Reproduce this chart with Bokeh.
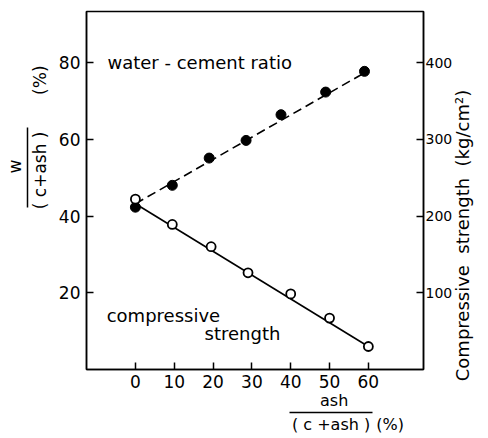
import math
from bokeh.plotting import figure
from bokeh.models import Range1d, LinearAxis, FixedTicker, Label
from bokeh.embed import file_html
from bokeh.resources import INLINE

# ---- data ----
wc_x = [0, 9.5, 19, 28.5, 37.5, 49, 59]
wc_y = [42.3, 48.0, 55.1, 59.7, 66.4, 72.3, 77.7]          # w/(c+ash) %
cs_x = [0, 9.5, 19.5, 29, 40, 50, 60]
cs_y = [222, 189, 160, 126, 98.5, 67, 30]                  # kg/cm2
fit_x = [0, 60]
fit_wc = [43.2, 77.9]
fit_cs = [216, 30]
x_ticks = [0, 10, 20, 30, 40, 50, 60]
left_ticks = [20, 40, 60, 80]
right_ticks = [100, 200, 300, 400]

FONT = "DejaVu Sans"
V = math.pi / 2
SP = "\u00a0"
RIGHT_TITLE = "Compressive" + SP + SP + "strength" + SP + SP + "(kg/cm²)"

p = figure(width=488, height=438, output_backend="svg", toolbar_location=None,
           x_range=Range1d(-12.6, 74.2), y_range=Range1d(0, 93.3),
           min_border_left=86, min_border_right=65, min_border_top=11,
           min_border_bottom=69, background_fill_color="white",
           border_fill_color="white")
p.extra_y_ranges = {"cs": Range1d(0, 466.5)}
p.xgrid.visible = False
p.ygrid.visible = False
p.outline_line_color = "black"
p.outline_line_width = 1.5

def style(ax, standoff, size="17px"):
    ax.axis_line_width = 1.5
    ax.axis_line_color = "black"
    ax.major_tick_in = 7
    ax.major_tick_out = 0
    ax.major_tick_line_width = 1.5
    ax.minor_tick_line_color = None
    ax.major_label_text_font = FONT
    ax.major_label_text_font_size = size
    ax.major_label_text_color = "black"
    ax.major_label_standoff = standoff

def text_axis(ticks, texts, standoff, size, orient="horizontal", bounds=None):
    ax = LinearAxis(ticker=FixedTicker(ticks=ticks),
                    major_label_overrides={t: s for t, s in zip(ticks, texts)})
    ax.major_tick_line_color = None
    ax.minor_tick_line_color = None
    ax.major_tick_in = 0
    ax.major_tick_out = 0
    ax.major_label_text_font = FONT
    ax.major_label_text_font_size = size
    ax.major_label_text_color = "black"
    ax.major_label_standoff = standoff
    ax.major_label_orientation = orient
    if bounds is not None:
        ax.axis_line_color = "black"
        ax.axis_line_width = 1.5
        ax.bounds = bounds
    else:
        ax.axis_line_color = None
    return ax

p.xaxis.ticker = FixedTicker(ticks=x_ticks)
p.yaxis.ticker = FixedTicker(ticks=left_ticks)
style(p.xaxis[0], 5)
style(p.yaxis[0], 6)

ra = LinearAxis(y_range_name="cs", ticker=FixedTicker(ticks=right_ticks))
style(ra, 2, "14px")
p.add_layout(ra, "right")

# right title (reads bottom to top)
p.add_layout(text_axis([43.5], [RIGHT_TITLE], 7, "18px", V), "right")

# left title: w / (c+ash) (%)   (fraction bar = axis line of the "w" axis)
p.add_layout(text_axis([51.9, 75.4], ["( c+ash )", "(%)"], 5, "17px", "vertical"), "left")
p.add_layout(text_axis([52.9], ["w"], 2, "17px", "vertical", bounds=(42.2, 63.1)), "left")

# bottom title: ash / (c+ash) (%)   (fraction bar = axis line of the denominator axis)
p.add_layout(text_axis([51.2], ["ash"], 0, "16px"), "below")
p.add_layout(text_axis([50.4, 65.6], ["( c +ash )", "(%)"], 2, "16px",
                       bounds=(39.8, 61.0)), "below")

# lines
p.line(fit_x, fit_wc, line_color="black", line_width=1.6, line_dash="9 5")
p.line(fit_x, fit_cs, y_range_name="cs", line_color="black", line_width=1.6)
# points
p.scatter(wc_x, wc_y, size=10, fill_color="black", line_color="black")
p.scatter(cs_x, cs_y, y_range_name="cs", size=9, fill_color="white",
          line_color="black", line_width=1.8)

def lab(x, y, t, size="18px"):
    p.add_layout(Label(x=x, y=y, text=t, text_font=FONT, text_font_size=size,
                       text_align="left", text_baseline="middle", text_color="black"))

lab(-7.2, 80, "water - cement ratio")
lab(-7.4, 14.0, "compressive")
lab(17.8, 9.3, "strength")

open("out.html", "w").write(file_html(p, INLINE))
